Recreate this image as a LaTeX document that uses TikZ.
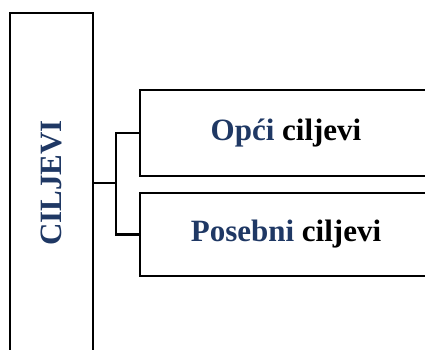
\documentclass[tikz,border=0pt]{standalone}
\usepackage{fontspec}
\setmainfont{Liberation Serif}
\definecolor{ciljblue}{RGB}{31,56,100}
\tikzset{
  goalbox/.style={draw,line width=2.8pt,font=\fontsize{31}{36}\selectfont\bfseries},
  link/.style={line width=2.8pt}
}
\begin{document}
\begin{tikzpicture}[x=1pt,y=1pt]
\useasboundingbox (0,0) rectangle (425,349);

\node (cilj) at (51.5,166) [goalbox,rotate=90,minimum width=340pt,minimum height=83pt] {\textcolor{ciljblue}{CILJEVI}};
\node (opci) at (286,216) [goalbox,minimum width=292pt,minimum height=86pt] {\textcolor{ciljblue}{Opći} ciljevi};
\node (pos) at (286,114.5) [goalbox,minimum width=292pt,minimum height=83pt] {\textcolor{ciljblue}{Posebni} ciljevi};

\coordinate (fork) at (116,166);
\draw [link] (cilj.south) -- (fork);
\draw [link] (opci.west) -| (fork) |- (pos.west);

\end{tikzpicture}
\end{document}
